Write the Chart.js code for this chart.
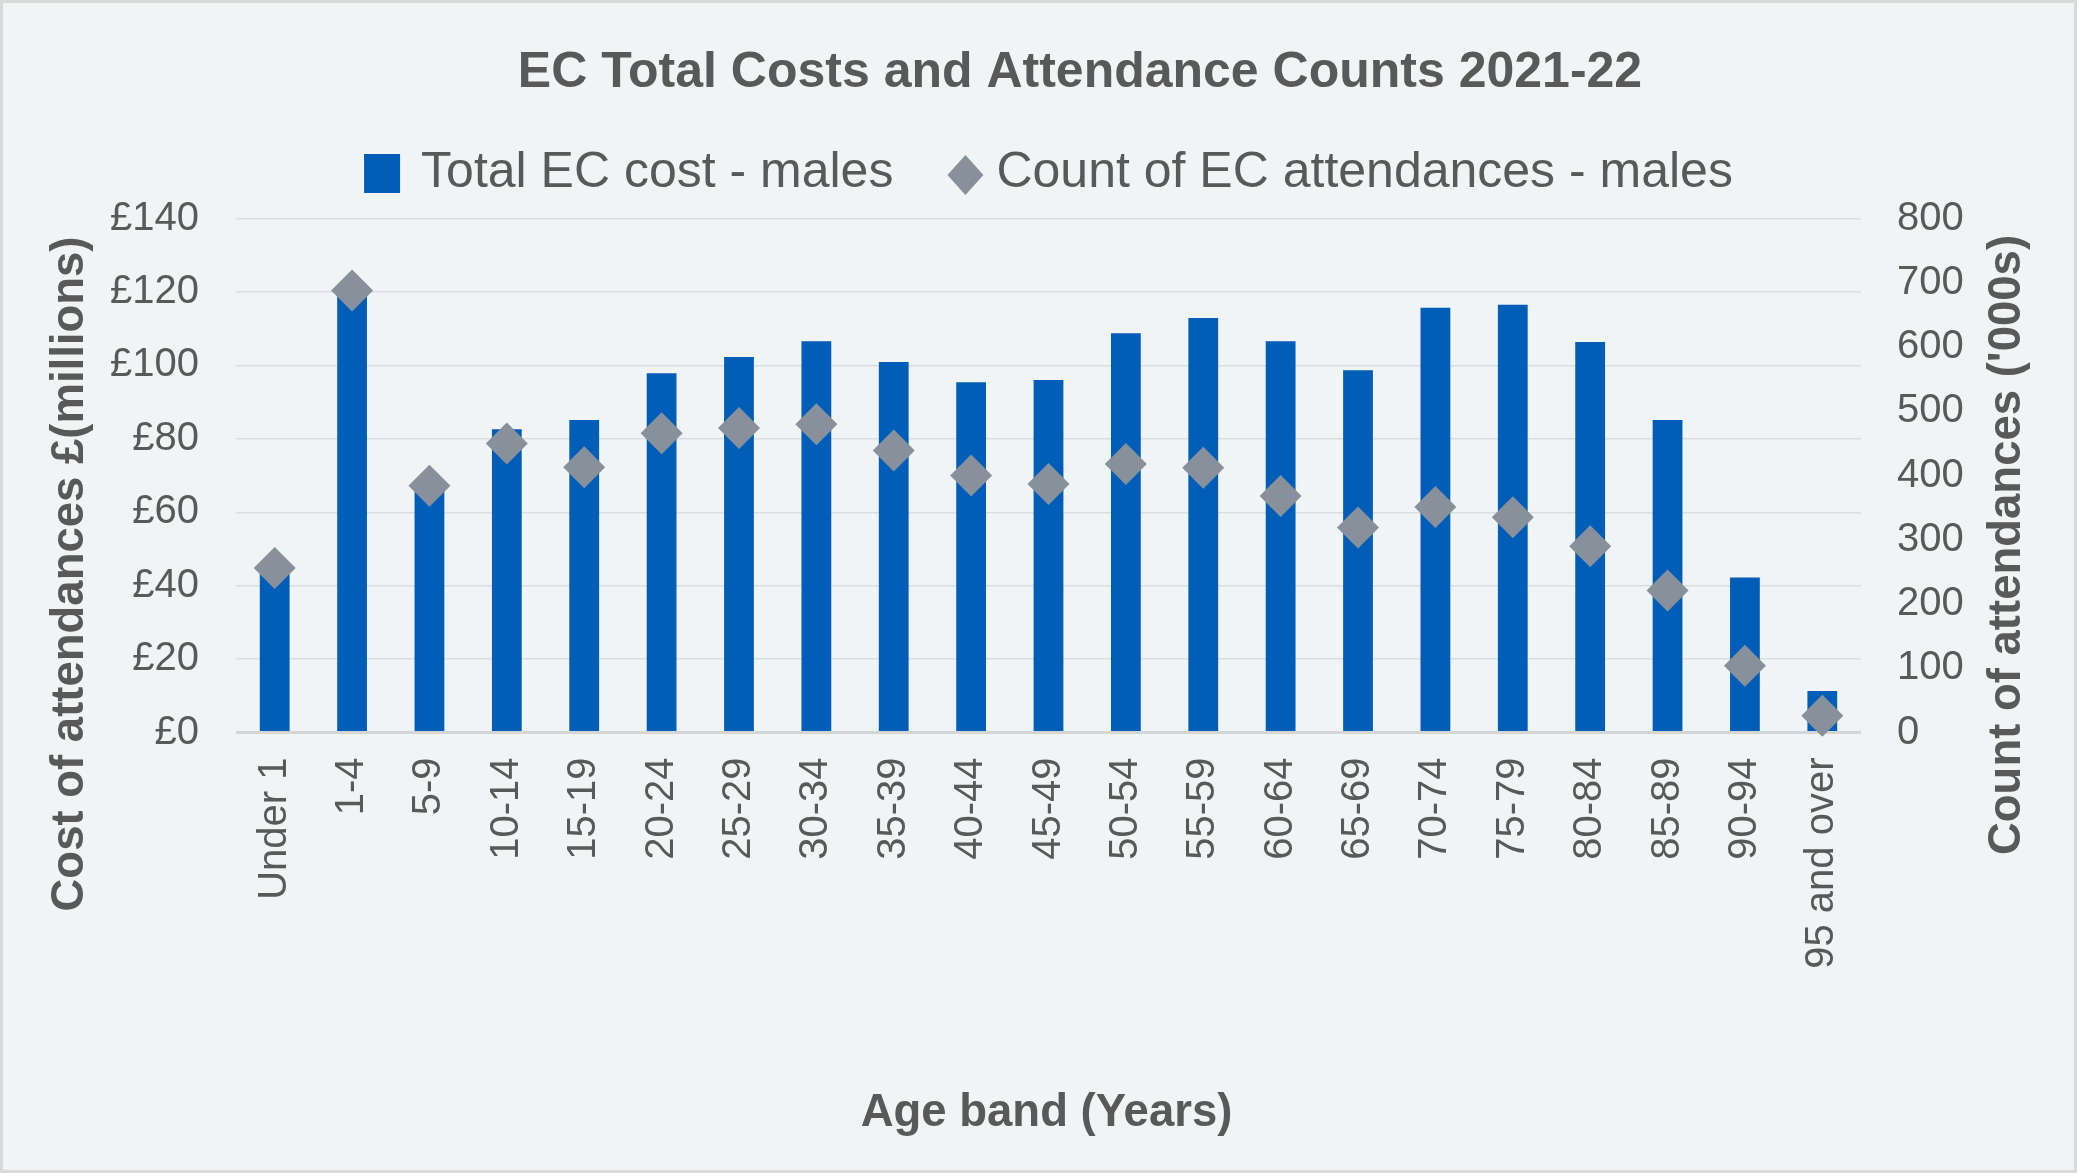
<!DOCTYPE html>
<html>
<head>
<meta charset="utf-8">
<script src="https://cdn.jsdelivr.net/npm/chart.js@4"></script>
<style>
  html, body { margin: 0; padding: 0; background: #d9d9d9; }
  #moldura { position: absolute; left: 0; top: 0; width: 2077px; height: 1173px; box-sizing: border-box; border: 3px solid #d9d9d9; background: #f0f4f5; }
  canvas { display: block; }
</style>
</head>
<body>
<div id="moldura"><canvas id="graficoEC" width="2071" height="1167"></canvas></div>
<script>
// --- DADOS ---
const faixasEtarias = ["Under 1", "1-4", "5-9", "10-14", "15-19", "20-24", "25-29", "30-34", "35-39", "40-44", "45-49",
  "50-54", "55-59", "60-64", "65-69", "70-74", "75-79", "80-84", "85-89", "90-94", "95 and over"];
const custoMilhoes = [45.5, 120, 68, 82.6, 85.1, 97.9, 102.3, 106.6, 100.9, 95.4, 96.0,
  108.8, 112.9, 106.6, 98.7, 115.7, 116.5, 106.4, 85.1, 42.2, 11.3];
const atendimentosMil = [256, 688, 384, 450, 413, 466, 474, 480, 439, 400, 387,
  418, 412, 368, 319, 351, 335, 290, 221, 104, 26];

const titulo = "EC Total Costs and Attendance Counts 2021-22";
const legendaCusto = "Total EC cost - males";
const legendaContagem = "Count of EC attendances - males";
const tituloEixoX = "Age band (Years)";
const tituloEixoCusto = "Cost of attendances £(millions)";
const tituloEixoContagem = "Count of attendances ('000s)";

// --- ESTILO ---
const fonte = '"Liberation Sans", Arial, sans-serif';
const corTexto = '#595959';
const corBarra = '#005eb8';
const corLosango = '#87909b';
const corGrade = '#d9dee1';
const corBase = '#d4d5d6';

Chart.defaults.font.family = fonte;
Chart.defaults.color = corTexto;

// Título, legenda e títulos dos eixos desenhados à mão (posições do Excel)
const textosExtras = {
  id: 'textosExtras',
  afterDraw(chart) {
    const ctx = chart.ctx;
    const area = chart.chartArea;
    ctx.save();
    ctx.fillStyle = corTexto;

    ctx.font = `bold 50px ${fonte}`;
    ctx.textAlign = 'center';
    ctx.textBaseline = 'alphabetic';
    ctx.fillText(titulo, 1077, 84);

    // legenda
    ctx.font = `50px ${fonte}`;
    ctx.textAlign = 'left';
    const w1 = ctx.measureText(legendaCusto).width;
    const w2 = ctx.measureText(legendaContagem).width;
    const total = 36 + 21 + w1 + 54 + 36 + 13 + w2;
    let x = (area.left + area.right) / 2 - total / 2;
    ctx.fillStyle = corBarra;
    ctx.fillRect(x, 151, 36, 39);
    ctx.fillStyle = corTexto;
    ctx.fillText(legendaCusto, x + 57, 184);
    x += 57 + w1 + 54;
    ctx.fillStyle = corLosango;
    ctx.beginPath();
    ctx.moveTo(x + 18, 152);
    ctx.lineTo(x + 36, 172);
    ctx.lineTo(x + 18, 192);
    ctx.lineTo(x, 172);
    ctx.closePath();
    ctx.fill();
    ctx.fillStyle = corTexto;
    ctx.fillText(legendaContagem, x + 49, 184);

    // títulos dos eixos
    ctx.font = `bold 45.5px ${fonte}`;
    ctx.textAlign = 'center';
    ctx.textBaseline = 'middle';
    ctx.fillText(tituloEixoX, 1043.5, 1110);

    ctx.save();
    ctx.translate(67, 571);
    ctx.rotate(-Math.PI / 2);
    ctx.fillText(tituloEixoCusto, 0, 0);
    ctx.restore();

    ctx.save();
    ctx.translate(2004, 542);
    ctx.rotate(-Math.PI / 2);
    ctx.fillText(tituloEixoContagem, 0, 0);
    ctx.restore();

    ctx.restore();
  }
};

const ctx = document.getElementById('graficoEC');
new Chart(ctx, {
  data: {
    labels: faixasEtarias,
    datasets: [
      {
        type: 'line',
        label: legendaContagem,
        data: atendimentosMil,
        yAxisID: 'y1',
        showLine: false,
        pointStyle: 'rectRot',
        pointRadius: 21,
        pointHoverRadius: 21,
        pointBackgroundColor: corLosango,
        pointBorderWidth: 0,
        borderWidth: 0,
        clip: false,
        order: 0
      },
      {
        type: 'bar',
        label: legendaCusto,
        data: custoMilhoes,
        yAxisID: 'y',
        backgroundColor: corBarra,
        barPercentage: 0.385,
        categoryPercentage: 1.0,
        order: 1
      }
    ]
  },
  options: {
    responsive: false,
    animation: false,
    layout: { padding: { top: 215.6, left: 0, right: 0, bottom: 0 } },
    plugins: { legend: { display: false }, title: { display: false }, tooltip: { enabled: false } },
    scales: {
      x: {
        grid: { display: false, drawTicks: false },
        border: { display: false },
        ticks: { font: { size: 40 }, color: corTexto, minRotation: 90, maxRotation: 90, autoSkip: false, padding: 25 },
        afterFit: (s) => { s.height = 437.5; }
      },
      y: {
        position: 'left',
        min: 0,
        max: 140,
        ticks: { stepSize: 20, font: { size: 40 }, color: corTexto, padding: 37, callback: (v) => '£' + v },
        grid: {
          drawTicks: false,
          color: (c) => c.tick.value === 0 ? corBase : corGrade,
          lineWidth: (c) => c.tick.value === 0 ? 3 : 1.5
        },
        border: { display: false },
        afterFit: (s) => { s.width = 233; }
      },
      y1: {
        position: 'right',
        min: 0,
        max: 800,
        ticks: { stepSize: 100, font: { size: 40 }, color: corTexto, padding: 36 },
        grid: { drawOnChartArea: false, drawTicks: false },
        border: { display: false },
        afterFit: (s) => { s.width = 213; }
      }
    }
  },
  plugins: [textosExtras]
});
</script>
</body>
</html>
